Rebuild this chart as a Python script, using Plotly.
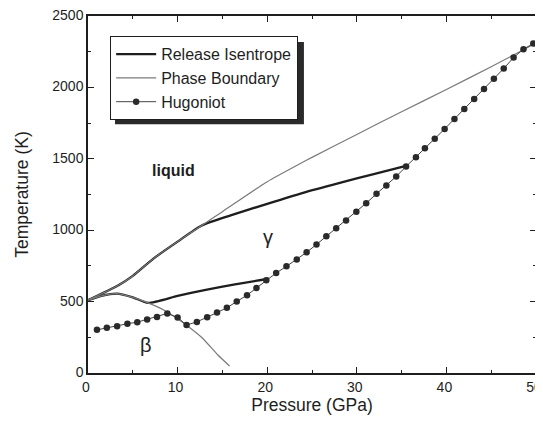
import plotly.graph_objects as go

# Hugoniot (dots)
hug_p = [1.0, 2.1, 3.25, 4.4, 5.5, 6.6, 7.7, 8.85, 10.0, 11.0, 12.15, 13.3, 14.4, 15.5,
         16.6, 17.75, 18.8, 19.9, 21.0, 22.15, 23.3, 24.4, 25.5, 26.6, 27.7, 28.8, 29.95,
         31.05, 32.2, 33.3, 34.4, 35.5, 36.6, 37.6, 38.7, 39.8, 40.9, 42.0, 43.1, 44.2,
         45.3, 46.4, 47.5, 48.6, 49.7]
hug_t = [302, 317, 328, 345, 356, 375, 393, 417, 389, 336, 358, 390, 423, 457,
         500, 545, 595, 650, 700, 747, 794, 845, 900, 957, 1013, 1068, 1129,
         1189, 1255, 1313, 1376, 1446, 1511, 1574, 1641, 1709, 1779, 1848, 1918, 1988,
         2060, 2132, 2209, 2268, 2307]

# Phase boundary: melt curve
melt_p = [0, 2, 3.4, 5, 7.3, 10, 12.7, 15, 20, 23.6, 25, 30, 35, 40, 45, 50]
melt_t = [510, 570, 614, 680, 801, 920, 1033, 1130, 1340, 1464, 1510, 1670, 1830, 1985, 2145, 2310]

# Phase boundary: beta-gamma
bg_p = [0, 1.5, 3.2, 5, 6.7, 8.5, 9.7, 11, 12.7, 14.5, 15.8]
bg_t = [510, 540, 556, 530, 491, 440, 393, 335, 249, 126, 49]

# Release isentropes
isA_p = [35.6, 32, 28, 24, 20, 16, 12.7, 10, 7.3, 5, 3.4, 2, 0]
isA_t = [1452, 1395, 1330, 1262, 1185, 1105, 1033, 920, 801, 680, 614, 570, 510]
isB_p = [20.2, 16.4, 13, 10, 6.7, 5, 3.2, 1.5, 0]
isB_t = [660, 621, 580, 540, 491, 530, 556, 540, 510]

INK = "#1e1e1e"
GRAY = "#7a7a7a"
FONT = "Arial, Liberation Sans, sans-serif"

fig = go.Figure()

fig.add_trace(go.Scatter(x=isA_p, y=isA_t, mode="lines", name="Release Isentrope",
                         line=dict(color=INK, width=2.3, shape="spline", smoothing=0.6),
                         legendgroup="iso", legendrank=1))
fig.add_trace(go.Scatter(x=isB_p, y=isB_t, mode="lines", name="Release Isentrope",
                         line=dict(color=INK, width=2.3, shape="spline", smoothing=0.6),
                         legendgroup="iso", showlegend=False))
fig.add_trace(go.Scatter(x=melt_p, y=melt_t, mode="lines", name="Phase Boundary",
                         line=dict(color=GRAY, width=1.2, shape="spline", smoothing=0.6),
                         legendgroup="pb", legendrank=2))
fig.add_trace(go.Scatter(x=bg_p, y=bg_t, mode="lines", name="Phase Boundary",
                         line=dict(color=GRAY, width=1.2, shape="spline", smoothing=0.6),
                         legendgroup="pb", showlegend=False))
fig.add_trace(go.Scatter(x=hug_p, y=hug_t, mode="lines+markers", name="Hugoniot",
                         line=dict(color="#444444", width=1),
                         marker=dict(color="#2a2a2a", size=6.5, symbol="circle"),
                         legendrank=3))

# plot area in figure px: x 80..528 (448 wide), y 8..365 (357 tall)
# legend shadow (offset box behind the legend)
fig.add_shape(type="rect", xref="paper", yref="paper",
              x0=0.0603, x1=0.482, y0=0.697, y1=0.927,
              fillcolor="#2a2a2a", line=dict(width=0), layer="above")

fig.add_annotation(x=9.5, y=1418, text="<b>liquid</b>", showarrow=False,
                   font=dict(family=FONT, size=16, color=INK))
fig.add_annotation(x=20.1, y=950, text="γ", showarrow=False,
                   font=dict(family=FONT, size=20, color=INK))
fig.add_annotation(x=6.5, y=195, text="β", showarrow=False,
                   font=dict(family=FONT, size=20, color=INK))

axis_common = dict(showline=True, linecolor=INK, linewidth=1.5, mirror="allticks",
                   ticks="inside", ticklen=6, tickwidth=1.2, tickcolor=INK,
                   showgrid=False, zeroline=False, ticklabeloverflow="allow",
                   tickfont=dict(family=FONT, size=14, color=INK))

fig.update_xaxes(range=[0, 50], dtick=10, tick0=0, ticklabelshift=-2,
                 minor=dict(dtick=5, ticks="inside", ticklen=3, tickcolor=INK, showgrid=False),
                 title=dict(text="Pressure (GPa)", font=dict(family=FONT, size=17.5, color=INK),
                            standoff=4),
                 **axis_common)
fig.update_yaxes(range=[0, 2500], dtick=500, tick0=0, ticklabelshift=-1,
                 minor=dict(dtick=250, ticks="inside", ticklen=3, tickcolor=INK, showgrid=False),
                 title=dict(text="Temperature (K)", font=dict(family=FONT, size=17.5, color=INK),
                            standoff=19),
                 **axis_common)

fig.update_layout(
    width=535, height=415,
    margin=dict(l=80, r=7, t=8, b=50, autoexpand=False),
    paper_bgcolor="white", plot_bgcolor="white",
    showlegend=True,
    legend=dict(x=0.049, y=0.944, xanchor="left", yanchor="top",
                bgcolor="white", bordercolor=INK, borderwidth=1.2,
                font=dict(family=FONT, size=16, color=INK),
                itemwidth=40, tracegroupgap=0, traceorder="normal"),
)

fig.write_html("out.html")
